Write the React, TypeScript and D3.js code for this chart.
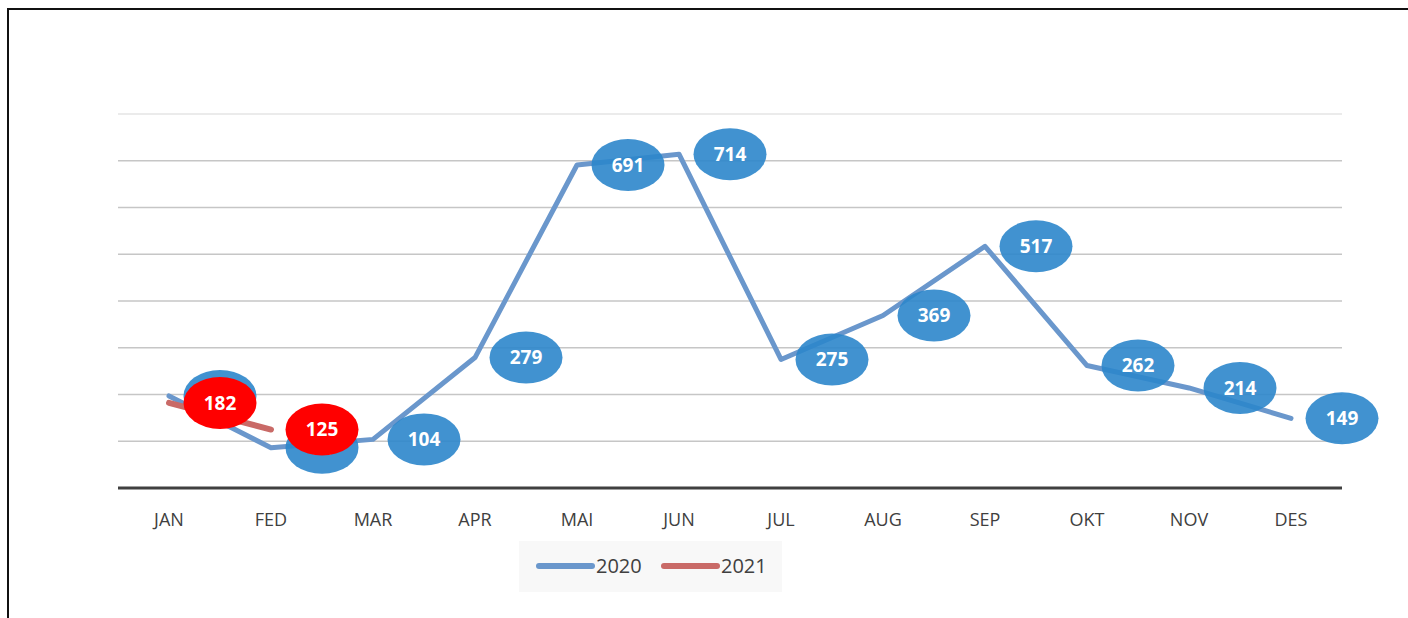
import { useEffect, useRef } from 'react';
import * as d3 from 'd3';

const months = ['JAN', 'FED', 'MAR', 'APR', 'MAI', 'JUN', 'JUL', 'AUG', 'SEP', 'OKT', 'NOV', 'DES'];
const values2020 = [197, 86, 104, 279, 691, 714, 275, 369, 517, 262, 214, 149];
const values2021 = [182, 125];
const yTicks = [100, 200, 300, 400, 500, 600, 700, 800];
const seriesNames = ['2020', '2021'];

const W = 1408;
const H = 618;

export default function App() {
  const ref = useRef<SVGSVGElement>(null);

  useEffect(() => {
    if (!ref.current) return;
    const svg = d3.select(ref.current);
    svg.selectAll('*').remove();

    const left = 118;
    const right = 1342;
    const top = 114;
    const bottom = 488;
    const font = "'Open Sans', 'Noto Sans', sans-serif";

    const x = d3.scaleBand<string>().domain(months).range([left, right]);
    const y = d3.scaleLinear().domain([0, 800]).range([bottom, top]);
    const cx = (m: string) => (x(m) ?? 0) + x.bandwidth() / 2;

    // outer frame (top + left only visible)
    svg.append('line').attr('x1', 7).attr('x2', W).attr('y1', 9).attr('y2', 9)
      .attr('stroke', '#111').attr('stroke-width', 2);
    svg.append('line').attr('x1', 8).attr('x2', 8).attr('y1', 9).attr('y2', H)
      .attr('stroke', '#111').attr('stroke-width', 2);

    // gridlines
    svg.append('g')
      .selectAll('line')
      .data(yTicks)
      .enter()
      .append('line')
      .attr('x1', left)
      .attr('x2', right)
      .attr('y1', (d) => y(d))
      .attr('y2', (d) => y(d))
      .attr('stroke', (d) => (d === 800 ? '#e4e4e4' : '#c6c6c6'))
      .attr('stroke-width', 1.5);

    // baseline
    svg.append('line').attr('x1', left).attr('x2', right).attr('y1', bottom).attr('y2', bottom)
      .attr('stroke', '#404040').attr('stroke-width', 3);

    // month labels
    svg.append('g')
      .selectAll('text')
      .data(months)
      .enter()
      .append('text')
      .attr('x', (d) => cx(d))
      .attr('y', 526)
      .attr('text-anchor', 'middle')
      .attr('font-family', font)
      .attr('font-size', 18)
      .attr('fill', '#404040')
      .text((d) => d);

    const line = d3.line<number>()
      .x((_, i) => cx(months[i]))
      .y((d) => y(d));

    svg.append('path').datum(values2020).attr('d', line)
      .attr('fill', 'none').attr('stroke', '#6a97cc').attr('stroke-width', 5)
      .attr('stroke-linejoin', 'round').attr('stroke-linecap', 'round');
    svg.append('path').datum(values2021).attr('d', line)
      .attr('fill', 'none').attr('stroke', '#c96a67').attr('stroke-width', 6)
      .attr('stroke-linejoin', 'round').attr('stroke-linecap', 'round');

    const bubbles = (vals: number[], fill: string, opacity: number) => {
      const g = svg.append('g');
      vals.forEach((v, i) => {
        const bx = cx(months[i]) + 51;
        const by = y(v);
        g.append('ellipse').attr('cx', bx).attr('cy', by).attr('rx', 36.5).attr('ry', 26)
          .attr('fill', fill).attr('fill-opacity', opacity);
        g.append('text').attr('x', bx).attr('y', by).attr('dy', '0.36em')
          .attr('text-anchor', 'middle').attr('font-family', font)
          .attr('font-weight', 'bold').attr('font-size', 19).attr('fill', '#fff')
          .text(v);
      });
    };
    bubbles(values2020, '#2c86cb', 0.9);
    bubbles(values2021, '#ff0000', 1);

    // legend
    const lg = svg.append('g');
    lg.append('rect').attr('x', 519).attr('y', 541).attr('width', 263).attr('height', 51)
      .attr('fill', '#f8f8f8');
    const legendColors = ['#6a97cc', '#c96a67'];
    const legendX = [539, 664];
    seriesNames.forEach((name, i) => {
      lg.append('line').attr('x1', legendX[i]).attr('x2', legendX[i] + 53)
        .attr('y1', 566).attr('y2', 566)
        .attr('stroke', legendColors[i]).attr('stroke-width', 6).attr('stroke-linecap', 'round');
      lg.append('text').attr('x', legendX[i] + 57).attr('y', 566).attr('dy', '0.36em')
        .attr('font-family', font).attr('font-size', 20).attr('fill', '#404040')
        .text(name);
    });
  }, []);

  return (
    <svg
      ref={ref}
      width={W}
      height={H}
      style={{ position: 'absolute', left: 0, top: 0, background: '#fff' }}
      role="img"
      aria-label="Monthly values 2020 and 2021"
    />
  );
}
